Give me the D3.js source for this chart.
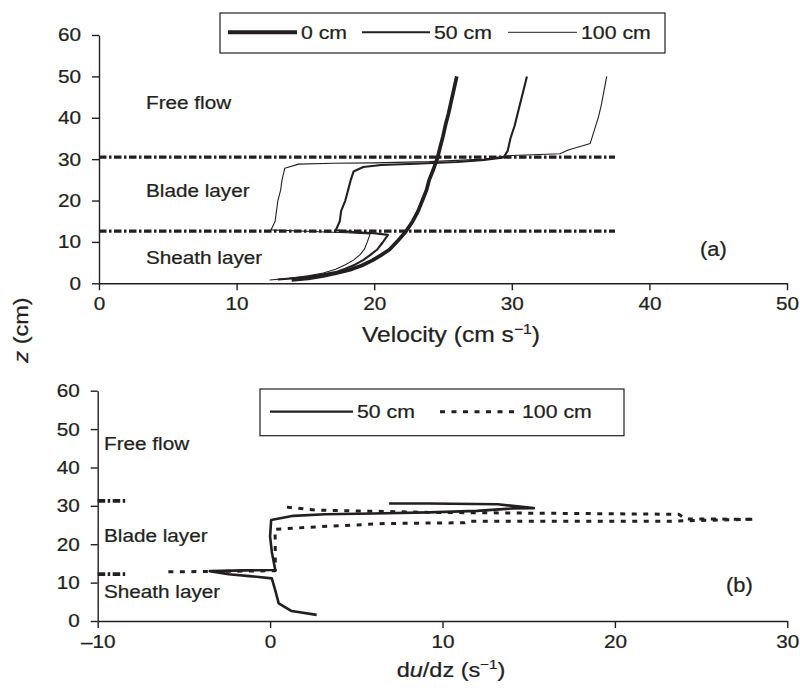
<!DOCTYPE html>
<html>
<head>
<meta charset="utf-8">
<script src="https://cdn.jsdelivr.net/npm/d3@7"></script>
<style>
  body { margin: 0; background: #fff; }
  svg text { font-family: 'Liberation Sans', Arial, Helvetica, sans-serif; fill: #231f20; }
</style>
</head>
<body>
<svg id="chart" width="800" height="690"></svg>
<script>
// ---- panel (a): velocity profiles [velocity cm/s, z cm]
var series_a = ['0 cm', '50 cm', '100 cm'];
var vel0 = [[14.0,0.8],[15.2,1.2],[16.3,1.8],[17.3,2.5],[18.2,3.2],[19.1,4.3],[19.9,5.6],[20.5,6.8],[21.1,8.1],
  [21.7,10.2],[22.3,12.5],[22.8,15],[23.2,17.5],[23.5,20],[23.8,22.5],[24.0,25],[24.3,27.5],[24.6,30.3],
  [24.8,33],[25.0,35.5],[25.2,38.5],[25.4,41],[25.6,44],[25.8,47],[26.0,50]];
var vel50 = [[13.0,0.9],[14.5,1.3],[16.0,2.0],[17.2,2.7],[17.9,3.5],[18.6,4.5],[19.2,5.6],[19.7,6.8],[20.2,8.1],
  [20.6,9.8],[21.0,11.7],[20.0,12.1],[18.5,12.4],[17.2,12.8],[17.5,15],[17.6,17.5],[17.9,20],[18.1,22.5],
  [18.3,25],[18.5,27.0],[19.2,28.1],[20.5,28.6],[23,28.9],[26,29.3],[28,29.8],[29.4,30.4],[29.7,32],
  [29.9,35],[30.2,38],[30.5,42],[30.8,46],[31.1,50]];
var vel100 = [[12.4,0.8],[13.8,1.2],[15.2,1.8],[16.3,2.5],[17.2,3.4],[17.9,4.5],[18.5,5.6],[19.0,7.0],[19.3,8.3],
  [19.5,10.0],[19.7,11.9],[18.0,12.2],[15.5,12.5],[12.5,12.9],[12.8,15],[12.9,17.5],[13.0,20],[13.2,22.5],
  [13.3,25],[13.5,27.8],[14.5,28.8],[17,29.0],[20,29.1],[24,29.4],[28,30.0],[30,30.9],[33.5,31.3],
  [34.1,32.2],[35.7,33.8],[36.0,37],[36.3,40.2],[36.5,43],[36.7,46.5],[36.9,50]];
var bounds_a = [12.6, 30.5];     // layer boundaries (z)
var boundsEnd_a = [0, 37.5];     // velocity extent of boundary lines
var ticksX_a = [0, 10, 20, 30, 40, 50];

// ---- panel (b): shear [du/dz 1/s, z cm]
var series_b = ['50 cm', '100 cm'];
var dudz50 = [[2.7,1.6],[1.25,2.6],[0.5,4.6],[0.3,8],[0.1,11.1],[-1.2,11.7],[-2.4,12.2],[-3.5,13.0],[-1.5,13.2],
  [0.3,13.3],[0.1,18],[0.0,22],[0.06,26.3],[1.35,27.4],[3.2,27.8],[6,28.0],[9.2,28.3],[12,28.7],[14,29.3],
  [15.3,29.4],[13.2,30.4],[9.2,30.6],[6.9,30.6]];
var dudz100 = [[-5.9,12.8],[-3.4,12.9],[0.3,13.1],[0.3,18],[0.29,23.9],[3,24.6],[6.7,25.4],[11.3,25.6],
  [11.5,26.0],[23.1,26.0],[28.1,26.5],[24.1,26.6],[23.7,27.8],[9.2,28.3],[2.6,28.9],[0.7,29.8]];
var bounds_b = [12.2, 31.3];
var boundsEnd_b = [-10, -8.3];
var ticksX_b = [-10, 0, 10, 20, 30];

var ticksY = [0, 10, 20, 30, 40, 50, 60];
var layers = ['Free flow', 'Blade layer', 'Sheath layer'];

var ink = '#231f20';
var FS = 18.5;      // base font size
var SX = 1.12;      // horizontal stretch of the original lettering

var svg = d3.select('#chart');

var xa = d3.scaleLinear().domain([0, 50]).range([99, 787]);
var ya = d3.scaleLinear().domain([0, 60]).range([283.3, 35]);
var xb = d3.scaleLinear().domain([-10, 30]).range([97.7, 787.3]);
var yb = d3.scaleLinear().domain([0, 60]).range([621, 390.7]);

function fmt(d) { return d < 0 ? '\u2013' + Math.abs(d) : String(d); }

function text(x, y, str, size, anchor) {
    return svg.append('text')
        .attr('transform', 'translate(' + x + ',' + y + ') scale(' + SX + ',1)')
        .attr('font-size', size || FS)
        .attr('text-anchor', anchor || 'start')
        .attr('stroke', ink).attr('stroke-width', 0.25)
        .text(str);
}

function axes(x, y, tx) {
    var gx = svg.append('g')
        .attr('transform', 'translate(0,' + y.range()[0] + ')')
        .call(d3.axisBottom(x).tickValues(tx).tickFormat(fmt).tickSize(7).tickSizeOuter(0).tickPadding(7));
    var gy = svg.append('g')
        .attr('transform', 'translate(' + x.range()[0] + ',0)')
        .call(d3.axisLeft(y).tickValues(ticksY).tickSize(7).tickSizeOuter(0).tickPadding(9));
    [gx, gy].forEach(function(g) {
        g.select('.domain').attr('stroke', ink).attr('stroke-width', 1.4);
        g.selectAll('.tick line').attr('stroke', ink).attr('stroke-width', 1.4);
        g.selectAll('.tick text')
            .attr('font-size', FS)
            .attr('fill', ink)
            .attr('stroke', ink).attr('stroke-width', 0.25)
            .attr('font-family', "'Liberation Sans', Arial, sans-serif")
            .attr('transform', 'scale(' + SX + ',1)');
    });
}

function plotLine(x, y, data, width, dash) {
    var line = d3.line().x(d => x(d[0])).y(d => y(d[1]));
    svg.append('path')
        .datum(data)
        .attr('d', line)
        .attr('fill', 'none')
        .attr('stroke', ink)
        .attr('stroke-width', width)
        .attr('stroke-linejoin', 'round')
        .attr('stroke-dasharray', dash || null);
}

var dashDot = '7.5,2.5,2.5,2.5';
var dotted = '5,6.5';

// ---------- panel (a)
axes(xa, ya, ticksX_a);
bounds_a.forEach(z => plotLine(xa, ya, [[boundsEnd_a[0], z], [boundsEnd_a[1], z]], 3.3, dashDot));
plotLine(xa, ya, vel100, 1.1, null);
plotLine(xa, ya, vel50, 2.1, null);
plotLine(xa, ya, vel0, 3.7, null);

text(146, 109.3, layers[0]);
text(146, 196.5, layers[1]);
text(146, 263.5, layers[2]);
text(700, 256, '(a)', 19.5);

// legend (a)
svg.append('rect').attr('x', 220).attr('y', 13).attr('width', 445).attr('height', 40)
    .attr('fill', '#fff').attr('stroke', ink).attr('stroke-width', 1.2);
var legA = [[228, 297, 4], [362, 430, 2], [508, 577, 1]];
series_a.forEach(function(s, i) {
    svg.append('line').attr('x1', legA[i][0]).attr('x2', legA[i][1]).attr('y1', 32.3).attr('y2', 32.3)
        .attr('stroke', ink).attr('stroke-width', legA[i][2]);
    text(legA[i][1] + 4, 38.5, s, 19);
});

// x title (a)
var ta = svg.append('text')
    .attr('transform', 'translate(451,342) scale(' + SX + ',1)')
    .attr('font-size', 22).attr('text-anchor', 'middle')
    .attr('stroke', ink).attr('stroke-width', 0.25);
ta.append('tspan').text('Velocity (cm s');
ta.append('tspan').attr('font-size', 14).attr('dy', -8.5).text('\u22121');
ta.append('tspan').attr('dy', 8.5).text(')');

// shared y title
var tz = svg.append('text')
    .attr('transform', 'translate(28,330) rotate(-90) scale(' + SX + ',1)')
    .attr('font-size', 21).attr('text-anchor', 'middle')
    .attr('stroke', ink).attr('stroke-width', 0.25);
tz.append('tspan').attr('font-style', 'italic').text('z');
tz.append('tspan').text(' (cm)');

// ---------- panel (b)
axes(xb, yb, ticksX_b);
bounds_b.forEach(z => plotLine(xb, yb, [[boundsEnd_b[0], z], [boundsEnd_b[1], z]], 3.6, dashDot));
plotLine(xb, yb, dudz100, 3, dotted);
plotLine(xb, yb, dudz50, 2.6, null);

text(104, 450, layers[0]);
text(104, 541.7, layers[1]);
text(104, 598, layers[2]);
text(726, 592, '(b)', 19.5);

// legend (b)
svg.append('rect').attr('x', 260).attr('y', 389).attr('width', 364).attr('height', 46.7)
    .attr('fill', '#fff').attr('stroke', ink).attr('stroke-width', 1.2);
var legB = [[270, 353, 2.2, null], [440, 518, 3, dotted]];
series_b.forEach(function(s, i) {
    svg.append('line').attr('x1', legB[i][0]).attr('x2', legB[i][1]).attr('y1', 411.7).attr('y2', 411.7)
        .attr('stroke', ink).attr('stroke-width', legB[i][2]).attr('stroke-dasharray', legB[i][3]);
    text(legB[i][1] + 4, 418, s, 19);
});

// x title (b)
var tb = svg.append('text')
    .attr('transform', 'translate(451,677) scale(' + SX + ',1)')
    .attr('font-size', 21).attr('text-anchor', 'middle')
    .attr('stroke', ink).attr('stroke-width', 0.25);
tb.append('tspan').text('d');
tb.append('tspan').attr('font-style', 'italic').text('u');
tb.append('tspan').text('/dz (s');
tb.append('tspan').attr('font-size', 13.5).attr('dy', -8).text('\u22121');
tb.append('tspan').attr('dy', 8).text(')');
</script>
</body>
</html>
